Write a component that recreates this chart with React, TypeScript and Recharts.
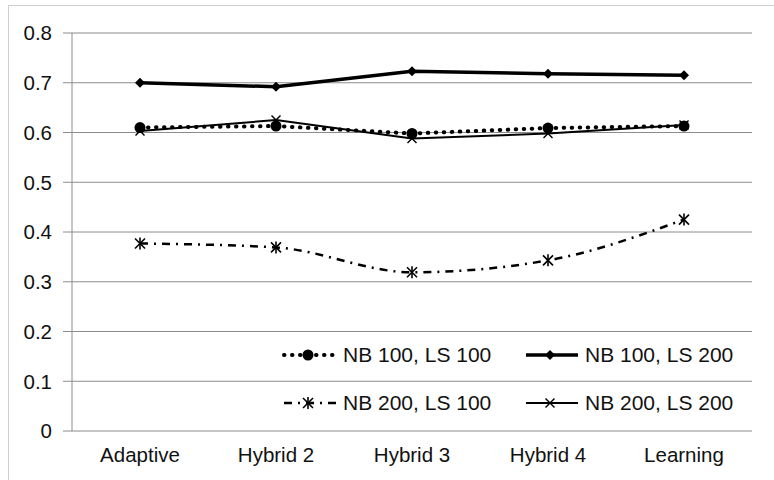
import {
  ComposedChart,
  Line,
  XAxis,
  YAxis,
  CartesianGrid,
} from 'recharts';

// ── Data ──────────────────────────────────────────────────────────────────────

const categories = ['Adaptive', 'Hybrid 2', 'Hybrid 3', 'Hybrid 4', 'Learning'];
const nb100ls100 = [0.61, 0.613, 0.598, 0.609, 0.613];
const nb100ls200 = [0.7, 0.692, 0.723, 0.718, 0.715];
const nb200ls100 = [0.377, 0.369, 0.319, 0.343, 0.425];
const nb200ls200 = [0.603, 0.625, 0.588, 0.598, 0.615];
const yTicks = [0, 0.1, 0.2, 0.3, 0.4, 0.5, 0.6, 0.7, 0.8];
const bounds = [0, 1, 2, 3, 4, 5];

const data = categories.map((name, i) => ({
  name,
  x: i + 0.5,
  a: nb100ls100[i],
  b: nb100ls200[i],
  c: nb200ls100[i],
  d: nb200ls200[i],
}));

const FONT = '"Liberation Sans", Arial, sans-serif';
const GRID = '#8c8c8c';
const DOTS = '0.5 7.5';
const DASH_DOT = '8 6 2 6';

// ── Markers ───────────────────────────────────────────────────────────────────

function CircleDot({ cx, cy }: any) {
  if (cx == null || cy == null) return null;
  return <circle cx={cx} cy={cy} r={5.5} fill="#000" />;
}

function DiamondDot({ cx, cy }: any) {
  if (cx == null || cy == null) return null;
  const s = 5;
  return <path d={`M${cx},${cy - s}L${cx + s},${cy}L${cx},${cy + s}L${cx - s},${cy}Z`} fill="#000" />;
}

function StarDot({ cx, cy }: any) {
  if (cx == null || cy == null) return null;
  const s = 5;
  return (
    <g stroke="#000" strokeWidth={1.6}>
      <line x1={cx - s} y1={cy - s} x2={cx + s} y2={cy + s} />
      <line x1={cx - s} y1={cy + s} x2={cx + s} y2={cy - s} />
      <line x1={cx} y1={cy - s - 1} x2={cx} y2={cy + s + 1} />
    </g>
  );
}

function CrossDot({ cx, cy }: any) {
  if (cx == null || cy == null) return null;
  const s = 4.5;
  return (
    <g stroke="#000" strokeWidth={1.4}>
      <line x1={cx - s} y1={cy - s} x2={cx + s} y2={cy + s} />
      <line x1={cx - s} y1={cy + s} x2={cx + s} y2={cy - s} />
    </g>
  );
}

// ── Legend ────────────────────────────────────────────────────────────────────

const legendItems = [
  { label: 'NB 100, LS 100', dash: DOTS, width: 4, cap: 'round', Mark: CircleDot },
  { label: 'NB 100, LS 200', dash: undefined, width: 3.5, cap: 'butt', Mark: DiamondDot },
  { label: 'NB 200, LS 100', dash: DASH_DOT, width: 2.5, cap: 'butt', Mark: StarDot },
  { label: 'NB 200, LS 200', dash: undefined, width: 2, cap: 'butt', Mark: CrossDot },
];

function LegendBox() {
  return (
    <div
      style={{
        position: 'absolute',
        left: 278,
        top: 343,
        display: 'grid',
        gridTemplateColumns: '242px 220px',
        rowGap: 24,
      }}
    >
      {legendItems.map((it) => (
        <div key={it.label} style={{ display: 'flex', alignItems: 'center', height: 24 }}>
          <svg width={60} height={20} style={{ marginRight: 5 }}>
            <line
              x1={6}
              y1={10}
              x2={58}
              y2={10}
              stroke="#000"
              strokeWidth={it.width}
              strokeDasharray={it.dash}
              strokeLinecap={it.cap as any}
            />
            <it.Mark cx={30} cy={10} />
          </svg>
          <span style={{ fontFamily: FONT, fontSize: 21, color: '#111', whiteSpace: 'nowrap' }}>
            {it.label}
          </span>
        </div>
      ))}
    </div>
  );
}

// ── Chart ─────────────────────────────────────────────────────────────────────

export default function App() {
  return (
    <div
      style={{
        position: 'absolute',
        left: 0,
        top: 0,
        width: 774,
        height: 480,
        background: '#fff',
      }}
    >
      <div
        style={{
          position: 'absolute',
          left: 8,
          top: 5,
          right: 0,
          bottom: 0,
          borderLeft: '1.5px solid #cfcfcf',
          borderTop: '1.5px solid #cfcfcf',
        }}
      />
      <ComposedChart
        width={774}
        height={480}
        data={data}
        margin={{ top: 33, right: 22, left: 0, bottom: 9 }}
      >
        <CartesianGrid xAxisId="pos" vertical={false} stroke={GRID} strokeWidth={1} />
        <XAxis
          xAxisId="pos"
          dataKey="x"
          type="number"
          domain={[0, 5]}
          ticks={bounds}
          tickFormatter={() => ''}
          height={0}
          tickSize={6}
          axisLine={{ stroke: GRID }}
          tickLine={{ stroke: GRID }}
        />
        <XAxis
          xAxisId="cat"
          dataKey="name"
          type="category"
          scale="band"
          height={40}
          axisLine={false}
          tickLine={false}
          tickMargin={10}
          tick={{ fill: '#111', fontSize: 20.5, fontFamily: FONT }}
        />
        <YAxis
          type="number"
          domain={[0, 0.8]}
          ticks={yTicks}
          width={72}
          tickFormatter={(v: number) => String(Number(v.toFixed(1)))}
          tickSize={9}
          tickMargin={11}
          axisLine={{ stroke: GRID }}
          tickLine={{ stroke: GRID }}
          tick={{ fill: '#111', fontSize: 20.5, fontFamily: FONT }}
        />

        <Line
          xAxisId="pos"
          dataKey="b"
          type="linear"
          stroke="#000"
          strokeWidth={3.5}
          dot={<DiamondDot />}
          activeDot={false}
          isAnimationActive={false}
        />
        <Line
          xAxisId="pos"
          dataKey="d"
          type="linear"
          stroke="#000"
          strokeWidth={2}
          dot={<CrossDot />}
          activeDot={false}
          isAnimationActive={false}
        />
        <Line
          xAxisId="pos"
          dataKey="a"
          type="linear"
          stroke="#000"
          strokeWidth={4}
          strokeDasharray={DOTS}
          strokeLinecap="round"
          dot={<CircleDot />}
          activeDot={false}
          isAnimationActive={false}
        />
        <Line
          xAxisId="pos"
          dataKey="c"
          type="monotone"
          stroke="#000"
          strokeWidth={2.5}
          strokeDasharray={DASH_DOT}
          dot={<StarDot />}
          activeDot={false}
          isAnimationActive={false}
        />
      </ComposedChart>
      <LegendBox />
    </div>
  );
}
